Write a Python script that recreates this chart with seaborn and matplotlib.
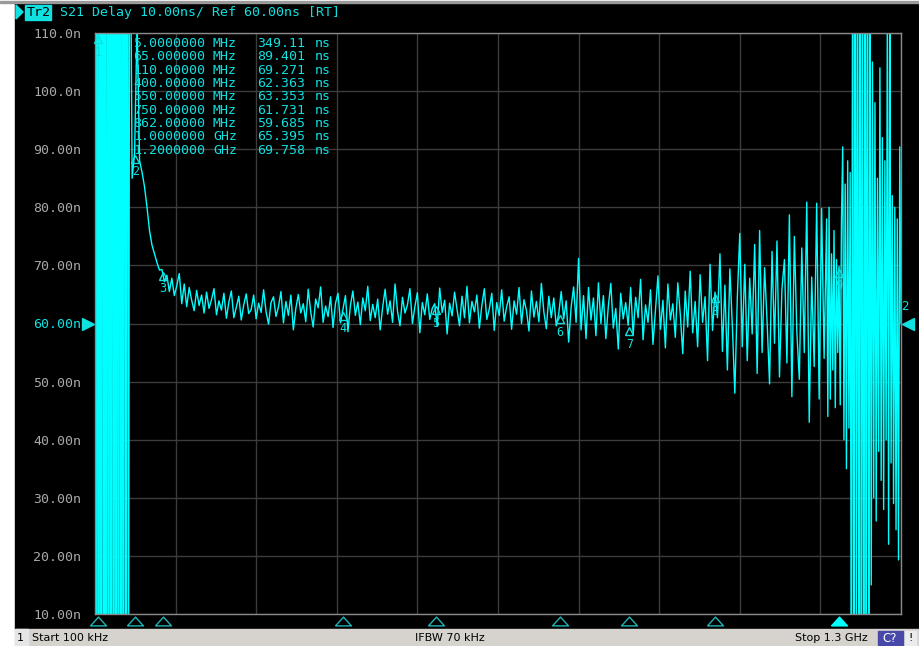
import numpy as np
import pandas as pd
import seaborn as sns
import matplotlib.pyplot as plt
import matplotlib.transforms as mtransforms
from matplotlib.patches import Rectangle
from matplotlib.path import Path

W, H = 920, 646

# Sweep points (MHz): finer steps at both band edges where the trace swings hard
freq_mhz = np.r_[0.1, np.arange(2, 56, 2), np.arange(56, 1180, 4), np.arange(1180, 1301, 2)]

# Group delay (ns), split by region of the sweep
delay_low = [300, -200, 380, -250, 349, -180, 410, -220, 330, -260,
             390, -150, 360, -240, 420, -190, 340, -210, 370, -170,
             400, -230, 320, -160, 350, -120, 280, -40]
delay_flat = [
    150, 85, 89.4, 112, 88, 86, 83.5, 80, 76, 73.5,
    72, 70.5, 69.2, 69.3, 67.2, 68.3, 65.5, 67.8, 64.8, 66.5,
    68.6, 63.4, 66.8, 62.9, 66.2, 64.0, 62.2, 65.7, 63.1, 64.9,
    61.8, 65.4, 62.6, 64.1, 66.0, 61.5, 63.9, 62.3, 65.2, 60.9,
    63.7, 65.6, 61.0, 62.8, 64.7, 60.6, 63.2, 65.1, 61.7, 62.4,
    64.9, 60.8, 63.5, 61.9, 65.8, 62.0, 59.9, 63.6, 64.6, 61.2,
    62.9, 65.5, 60.1, 63.8, 61.4, 64.9, 58.9, 62.6, 65.0, 61.8,
    63.4, 60.3, 65.9, 62.0, 59.4, 64.2, 62.7, 66.3, 60.2, 63.0,
    61.2, 64.6, 59.3, 63.5, 65.2, 60.1, 62.4, 64.8, 58.6, 63.1,
    65.6, 61.4, 63.7, 59.8, 64.4, 62.2, 66.4, 60.5, 63.3, 61.0,
    64.2, 58.9, 62.8, 65.9, 61.6, 63.9, 60.2, 66.8, 62.1, 59.6,
    64.5, 61.8, 63.2, 66.0, 60.0, 62.9, 65.3, 58.4, 63.6, 61.5,
    65.1, 60.7, 62.6, 63.4, 59.5, 66.1, 61.9, 64.0, 58.2, 63.5,
    61.3, 65.4, 62.4, 59.6, 64.7, 61.0, 66.4, 60.1, 63.8, 62.0,
    64.9, 59.2, 63.1, 66.0, 60.7, 62.5, 65.2, 58.8, 63.6, 61.4,
    65.8, 60.4, 62.9, 64.6, 59.0, 63.9, 61.6, 66.2, 60.0, 64.1,
    62.2, 58.7, 65.6, 61.1, 63.8, 60.3, 66.9, 62.0, 59.1, 64.7,
    61.0, 64.4, 59.6, 61.7, 65.5, 60.8, 63.9, 56.8, 62.8, 66.3,
    60.2, 71.2, 58.9, 64.8, 57.4, 66.2, 60.6, 64.4, 57.9, 67.0,
]
delay_noisy = [
    60.0, 64.8, 57.4, 63.0, 66.9, 59.2, 62.6, 55.6, 65.2, 60.8,
    63.6, 59.7, 66.2, 58.0, 64.5, 61.0, 67.6, 57.2, 63.2, 60.2,
    65.8, 56.4, 62.4, 68.2, 59.0, 64.0, 55.8, 66.8, 60.6, 63.4,
    57.6, 67.0, 61.6, 54.8, 65.6, 59.4, 69.0, 58.4, 63.8, 56.0,
    68.4, 60.2, 64.6, 53.6, 70.2, 58.8, 65.4, 61.0, 72.0, 55.2,
    66.6, 52.0, 69.4, 59.6, 48.0, 64.4, 75.5, 56.0, 70.2, 53.6,
    67.8, 58.2, 73.6, 51.4, 76.0, 55.0, 69.6, 60.4, 49.6, 72.4,
    56.6, 74.2, 50.8, 66.0, 71.0, 53.2, 78.7, 47.4, 75.0, 58.6,
    50.4, 73.0, 55.0, 80.9, 43.0, 68.0, 52.6, 80.7, 47.0, 79.8,
    54.0,
]
delay_edge = [
    78.0, 44.0, 80.0, 47.0, 72.0, 52.0, 76.0, 45.5, 71.0, 55.0,
    69.8, 46.0, 78.0, 90.4, 40.0, 84.0, 35.0, 88.0, 42.0, 86.0,
    -10, 135, -30, 150, 5, 140, -20, 160, -5, 130,
    -40, 145, 0, 155, -25, 125, 15, 105, 30, 98,
    26, 85, 38, 104, 33, 92, 28, 88, 40, 115,
    22, 120, 36, 82, 29, 80, 24.5, 78, 19.3, 90.4,
    60,
]

# Marker table
mkr_freq = [5, 65, 110, 400, 550, 750, 862, 1000, 1200]
mkr_delay = [349.11, 89.401, 69.271, 62.363, 63.353, 61.731, 59.685, 65.395, 69.758]
mkr_freq_txt = ["5.0000000", "65.000000", "110.00000", "400.00000", "550.00000",
                "750.00000", "862.00000", "1.0000000", "1.2000000"]
mkr_unit = ["MHz", "MHz", "MHz", "MHz", "MHz", "MHz", "MHz", "GHz", "GHz"]
mkr_delay_txt = ["349.11", "89.401", "69.271", "62.363", "63.353",
                 "61.731", "59.685", "65.395", "69.758"]

y_ticks = [10, 20, 30, 40, 50, 60, 70, 80, 90, 100, 110]
y_tick_labels = ["10.00n", "20.00n", "30.00n", "40.00n", "50.00n", "60.00n",
                 "70.00n", "80.00n", "90.00n", "100.0n", "110.0n"]
ref_level = 60

CYAN = "#00ffff"
TXT_CYAN = "#10e0e0"
DIM_CYAN = "#20b4b4"
GRAY_TXT = "#a8a8a8"

df = pd.DataFrame({"freq": freq_mhz,
                   "delay": np.r_[delay_low, delay_flat, delay_noisy, delay_edge]})

sns.set_theme(style="dark", rc={"axes.facecolor": "black",
                                "figure.facecolor": "white"})
plt.rcParams["font.family"] = ["DejaVu Sans Mono"]

fig = plt.figure(figsize=(W / 100, H / 100), dpi=100)


def px_rect(x0, y0, x1, y1, color, z=-5):
    fig.patches.append(Rectangle((x0 / W, 1 - y1 / H), (x1 - x0) / W, (y1 - y0) / H,
                                 transform=fig.transFigure, color=color, zorder=z))


def px_text(x, y, s, **kw):
    kw.setdefault("va", "center")
    return fig.text(x / W, 1 - y / H, s, **kw)


# screen background, status bar
px_rect(15, 3, W, 629, "black", z=-10)
px_rect(0, 1, W, 3, "#9a9a9a", z=-9)
px_rect(15, 629, W, H, "#d6d3ce", z=-9)
px_rect(15, 629, 28, H, "#e6e6e6", z=-8)
px_rect(878, 631, 903, H, "#4848a8", z=-8)
px_rect(905, 631, 916, H, "#ececec", z=-8)

ax = fig.add_axes([95 / W, 1 - 614 / H, 806 / W, 581 / H])
ax.set_facecolor("black")

sns.lineplot(data=df, x="freq", y="delay", ax=ax, color=CYAN, lw=1.0,
             estimator=None, sort=False, legend=False)

ax.set_xlim(0.1, 1300)
ax.set_ylim(10, 110)
ax.set_xticks(np.linspace(0.1, 1300, 11))
ax.set_xticklabels([])
ax.set_yticks(y_ticks)
ax.set_yticklabels(y_tick_labels, fontsize=9.5)
for lbl, v in zip(ax.get_yticklabels(), y_ticks):
    lbl.set_color(TXT_CYAN if v == ref_level else GRAY_TXT)
ax.tick_params(length=0, pad=10)
ax.set_xlabel("")
ax.set_ylabel("")
ax.grid(True, color="#3c3c3c", lw=1)
for sp in ax.spines.values():
    sp.set_color("#8a8a8a")
    sp.set_linewidth(1)

# markers on the trace: small triangle under the point, number below
for i, (f, d) in enumerate(zip(mkr_freq, mkr_delay)):
    yd = min(d, 110)
    tri = mtransforms.offset_copy(ax.transData, fig=fig, y=-6, units="dots")
    ax.plot([f], [yd], marker="^", ms=5.5, mfc="none", mec=TXT_CYAN, mew=1,
            transform=tri, clip_on=False, zorder=5)
    num = mtransforms.offset_copy(ax.transData, fig=fig, y=-19, units="dots")
    ax.text(f, yd, str(i + 1), transform=num, color=TXT_CYAN, fontsize=8.5,
            ha="center", va="center", zorder=5)

# marker flags under the grid
flag = Path([(-1, -0.55), (1, -0.55), (0, 0.55), (-1, -0.55)])
below = mtransforms.offset_copy(
    mtransforms.blended_transform_factory(ax.transData, ax.transAxes),
    fig=fig, y=-7, units="dots")
for i, f in enumerate(mkr_freq):
    active = i == len(mkr_freq) - 1
    ax.plot([f], [0], marker=flag, ms=11.5, transform=below, clip_on=False,
            mfc=CYAN if active else "none", mec=CYAN if active else DIM_CYAN,
            mew=1)

# reference level arrows
ref_tr = mtransforms.blended_transform_factory(ax.transAxes, ax.transData)
ax.plot([-7 / 806], [ref_level], marker=">", ms=9, color=TXT_CYAN,
        transform=ref_tr, clip_on=False)
ax.plot([1 + 7 / 806], [ref_level], marker="<", ms=9, color=TXT_CYAN,
        transform=ref_tr, clip_on=False)
px_text(905, 307, "2", color=TXT_CYAN, fontsize=9, ha="center")

# marker readout
for i in range(len(mkr_freq)):
    y = 43.7 + i * 13.3
    px_text(133, y, mkr_freq_txt[i], color=TXT_CYAN, fontsize=9.5)
    px_text(213, y, mkr_unit[i], color=TXT_CYAN, fontsize=9.5)
    px_text(257, y, mkr_delay_txt[i], color=TXT_CYAN, fontsize=9.5)
    px_text(315, y, "ns", color=TXT_CYAN, fontsize=9.5)

# trace header
fig.patches.append(plt.Polygon([(16 / W, 1 - 5 / H), (16 / W, 1 - 19 / H), (23 / W, 1 - 12 / H)],
                               closed=True, color=TXT_CYAN, transform=fig.transFigure))
px_rect(25, 5, 51, 20, TXT_CYAN, z=1)
px_text(27, 12.5, "Tr2", color="black", fontsize=9.5)
px_text(60, 12.5, "S21 Delay 10.00ns/ Ref 60.00ns [RT]", color=TXT_CYAN, fontsize=9.5)

# status bar
sb = dict(color="black", fontsize=8, family="DejaVu Sans")
px_text(17, 638, "1", **sb)
px_text(32, 638, "Start 100 kHz", **sb)
px_text(415, 638, "IFBW 70 kHz", **sb)
px_text(795, 638, "Stop 1.3 GHz", **sb)
px_text(882, 638, "C?", color="white", fontsize=8.5, family="DejaVu Sans")
px_text(908, 638, "!", **sb)

fig.savefig("out.png", dpi=100)
